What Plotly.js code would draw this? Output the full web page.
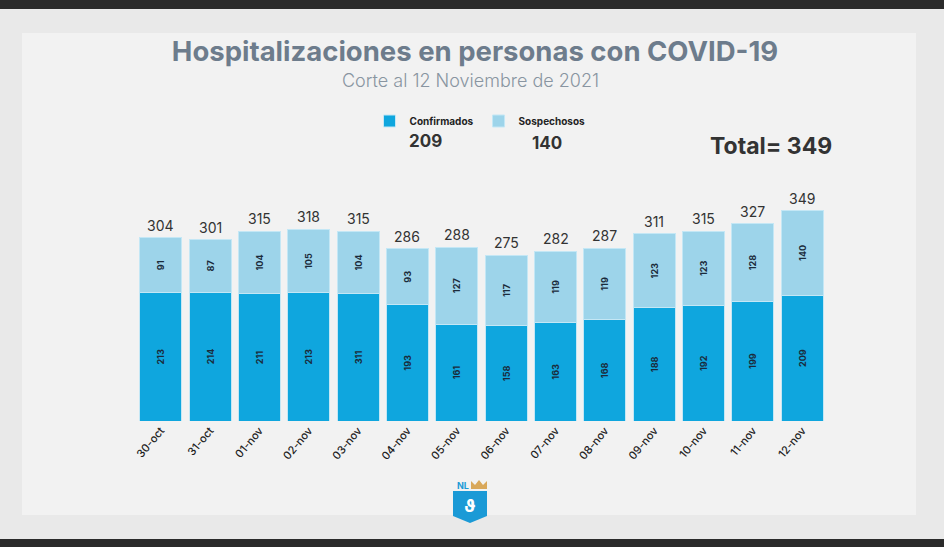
<!DOCTYPE html>
<html>
<head>
<meta charset="utf-8">
<script src="https://cdn.plot.ly/plotly-3.0.1.min.js"></script>
<style>
  html, body { margin: 0; padding: 0; background: #2a2a2a; }
  #chart { width: 944px; height: 547px; }
</style>
</head>
<body>
<div id="chart"></div>
<script>
// ---- data ----
const dates = ["30-oct", "31-oct", "01-nov", "02-nov", "03-nov", "04-nov", "05-nov",
               "06-nov", "07-nov", "08-nov", "09-nov", "10-nov", "11-nov", "12-nov"];
const confirmados = [213, 214, 211, 213, 211, 193, 161, 158, 163, 168, 188, 192, 199, 209];
const confirmadosLabels = ["213", "214", "211", "213", "311", "193", "161", "158", "163", "168", "188", "192", "199", "209"];
const sospechosos = [91, 87, 104, 105, 104, 93, 127, 117, 119, 119, 123, 123, 128, 140];
const totals = [304, 301, 315, 318, 315, 286, 288, 275, 282, 287, 311, 315, 327, 349];

const titleText = "Hospitalizaciones en personas con COVID-19";
const subtitleText = "Corte al 12 Noviembre de 2021";

// ---- layout geometry ----
const W = 944, H = 547;
const M = { l: 136, r: 117, t: 180, b: 126 };
const PW = W - M.l - M.r, PH = H - M.t - M.b;
const px = X => (X - M.l) / PW;
const py = Y => (H - M.b - Y) / PH;

const cConf = "#0fa6de";
const cSosp = "#9dd4ea";
const FONT = "Inter, 'Open Sans', sans-serif";

const traces = [
  {
    type: "bar", name: "Confirmados", x: dates, y: confirmados,
    text: confirmadosLabels, texttemplate: "%{text}",
    textposition: "inside", insidetextanchor: "middle", textangle: -90,
    constraintext: "none",
    insidetextfont: { family: FONT, size: 9, color: "#1b2b3b", weight: 700 },
    marker: { color: cConf, line: { color: "#c4e7f5", width: 1 } },
    hoverinfo: "x+y"
  },
  {
    type: "bar", name: "Sospechosos", x: dates, y: sospechosos,
    text: sospechosos.map(String), texttemplate: "%{text}",
    textposition: "inside", insidetextanchor: "middle", textangle: -90,
    constraintext: "none",
    insidetextfont: { family: FONT, size: 9, color: "#1b2b3b", weight: 700 },
    marker: { color: cSosp, line: { color: "#c4e7f5", width: 1 } },
    hoverinfo: "x+y"
  }
];

const annotations = totals.map((t, i) => ({
  x: dates[i], y: t, xref: "x", yref: "y",
  text: String(t), showarrow: false, yanchor: "bottom", yshift: 2,
  font: { family: FONT, size: 14, color: "#333333" }
}));

annotations.push(
  { xref: "paper", yref: "paper", x: px(470), y: py(81), text: subtitleText, showarrow: false,
    xanchor: "center", yanchor: "middle", font: { family: FONT, size: 18, color: "#8995a1", weight: 300 } },
  { xref: "paper", yref: "paper", x: px(425), y: py(141), text: String(confirmados[confirmados.length - 1]),
    showarrow: false, xanchor: "center", yanchor: "middle",
    font: { family: FONT, size: 17, color: "#333333", weight: 700 } },
  { xref: "paper", yref: "paper", x: px(547), y: py(143), text: String(sospechosos[sospechosos.length - 1]),
    showarrow: false, xanchor: "center", yanchor: "middle",
    font: { family: FONT, size: 17, color: "#333333", weight: 700 } },
  { xref: "paper", yref: "paper", x: px(771), y: py(146), text: "Total= " + totals[totals.length - 1],
    showarrow: false, xanchor: "center", yanchor: "middle",
    font: { family: FONT, size: 23, color: "#333333", weight: 700 } },
  { xref: "paper", yref: "paper", x: px(463), y: py(485), text: "NL", showarrow: false,
    xanchor: "center", yanchor: "middle", font: { family: FONT, size: 9, color: "#1b9ad6", weight: 700 } },
  { xref: "paper", yref: "paper", x: px(470), y: py(505), text: "ϑ", showarrow: false,
    xanchor: "center", yanchor: "middle", font: { family: FONT, size: 18, color: "#ffffff", weight: 700 } }
);

const shapes = [
  { type: "rect", xref: "paper", yref: "paper", x0: px(0), x1: px(W), y0: py(0), y1: py(9),
    fillcolor: "#2a2a2a", line: { width: 0 }, layer: "below" },
  { type: "rect", xref: "paper", yref: "paper", x0: px(0), x1: px(W), y0: py(539), y1: py(H),
    fillcolor: "#2a2a2a", line: { width: 0 }, layer: "below" },
  { type: "rect", xref: "paper", yref: "paper", x0: px(22), x1: px(916), y0: py(33), y1: py(515),
    fillcolor: "#f2f2f2", line: { width: 0 }, layer: "below" },
  { type: "path", xref: "paper", yref: "paper",
    path: `M ${px(453)} ${py(491)} L ${px(487)} ${py(491)} L ${px(487)} ${py(516)} L ${px(470)} ${py(523)} L ${px(453)} ${py(516)} Z`,
    fillcolor: "#1b9ad6", line: { width: 0 } },
  { type: "path", xref: "paper", yref: "paper",
    path: `M ${px(471)} ${py(489)} L ${px(471)} ${py(481)} L ${px(475)} ${py(485)} L ${px(479)} ${py(480)} L ${px(483)} ${py(485)} L ${px(487)} ${py(481)} L ${px(487)} ${py(489)} Z`,
    fillcolor: "#d9a85a", line: { width: 0 } }
];

const layout = {
  width: W, height: H,
  margin: M,
  paper_bgcolor: "#e9e9e9",
  plot_bgcolor: "rgba(0,0,0,0)",
  barmode: "stack",
  bargap: 0.15,
  font: { family: FONT, color: "#333333" },
  title: {
    text: titleText, xref: "container", yref: "container",
    x: 475 / W, y: 1 - 51 / H, xanchor: "center", yanchor: "middle",
    font: { family: FONT, size: 27.5, color: "#6d7c8c", weight: 700 }
  },
  showlegend: true,
  legend: {
    orientation: "h", x: px(480), xanchor: "center", y: py(121), yanchor: "middle",
    bgcolor: "rgba(0,0,0,0)", font: { family: FONT, size: 10, color: "#222222", weight: 700 },
    itemwidth: 30, traceorder: "normal"
  },
  xaxis: {
    type: "category", tickangle: -50, showgrid: false, zeroline: false, showline: false,
    ticks: "", tickfont: { family: FONT, size: 11, color: "#222222", weight: 500 },
    range: [-0.5, dates.length - 0.5]
  },
  yaxis: {
    range: [0, 400], showgrid: false, zeroline: false, showline: false,
    showticklabels: false, ticks: ""
  },
  annotations: annotations,
  shapes: shapes
};

Plotly.newPlot("chart", traces, layout, { displayModeBar: false, staticPlot: true });
</script>
</body>
</html>
